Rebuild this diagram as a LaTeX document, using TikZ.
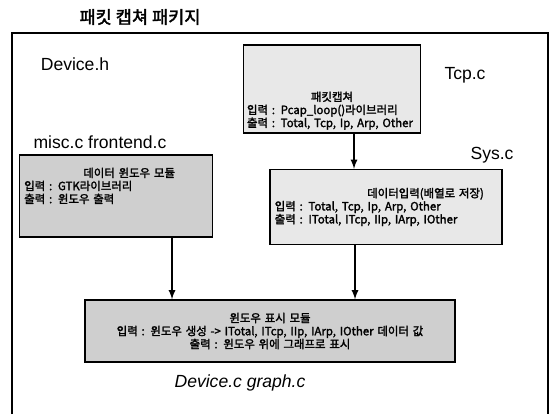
\documentclass[tikz,border=0pt]{standalone}
\usepackage{fontspec}
\setmainfont{Liberation Sans}
\newfontfamily\kr[AutoFakeBold=2]{Noto Sans CJK KR}
\newcommand{\boxhead}[2][0pt]{\makebox[\linewidth][c]{\hspace*{#1}#2}}
\begin{document}
\begin{tikzpicture}[
        x=0.02cm, y=-0.02cm,
        modbox/.style={draw, thick, rectangle, inner sep=2pt, align=left,
            font=\kr\bfseries\fontsize{6.5}{7.4}\selectfont},
        lightbox/.style={modbox, fill=gray!18},
        darkbox/.style={modbox, fill=gray!38},
        filelbl/.style={font=\fontsize{10}{12}\selectfont},
        arr/.style={draw, -latex, thick},
    ]
    \useasboundingbox (0,0) rectangle (550,414);
    \node[font=\kr\bfseries\fontsize{10}{12}\selectfont](title) at (140,17){패킷 캡쳐 패키지};
    \draw[thick] (12,414) |- (548,33) -- (548,414);

    \node[filelbl](devh) at (75,64){Device.h};
    \node[filelbl](tcpc) at (465,75){Tcp.c};
    \node[filelbl](sysc) at (492,155){Sys.c};
    \node[filelbl](misc) at (100,142){misc.c frontend.c};
    \node[filelbl, font=\itshape\fontsize{10}{12}\selectfont](devc) at (240,383){Device.c graph.c};

    \node[lightbox, minimum width=3.54cm, text width=3.4cm, minimum height=1.76cm](capture) at (332,89){
        \boxhead{\rule{0pt}{30pt}패킷캡쳐}\\
        입력 : Pcap\_loop()라이브러리\\
        출력 : Total, Tcp, Ip, Arp, Other};
    \node[lightbox, minimum width=4.64cm, text width=4.45cm, minimum height=1.5cm](input) at (386,207){
        \boxhead[45pt]{데이터입력(배열로 저장)}\\
        입력 : Total, Tcp, Ip, Arp, Other\\
        출력 : ITotal, ITcp, IIp, IArp, IOther};
    \node[darkbox, minimum width=3.86cm, text width=3.67cm, minimum height=1.64cm](window) at (116,196){
        \boxhead[15pt]{데이터 윈도우 모듈}\\
        입력 : GTK라이브러리\\
        출력 : 윈도우 출력\rule[-12pt]{0pt}{0pt}};
    \node[darkbox, minimum width=7.4cm, text width=7.2cm, minimum height=1.24cm](display) at (270,331){
        \boxhead{윈도우 표시 모듈}\\
        \boxhead{입력 : 윈도우 생성 -> ITotal, ITcp, IIp, IArp, IOther 데이터 값}\\
        \boxhead{출력 : 윈도우 위에 그래프로 표시}};

    \draw[arr] (capture.south) ++(22,0) coordinate (c1) -- (c1 |- input.north);
    \draw[arr] (window.south) ++(56,0) coordinate (w1) -- (w1 |- display.north);
    \draw[arr] (input.south) ++(-31,0) coordinate (i1) -- (i1 |- display.north);
\end{tikzpicture}
\end{document}
